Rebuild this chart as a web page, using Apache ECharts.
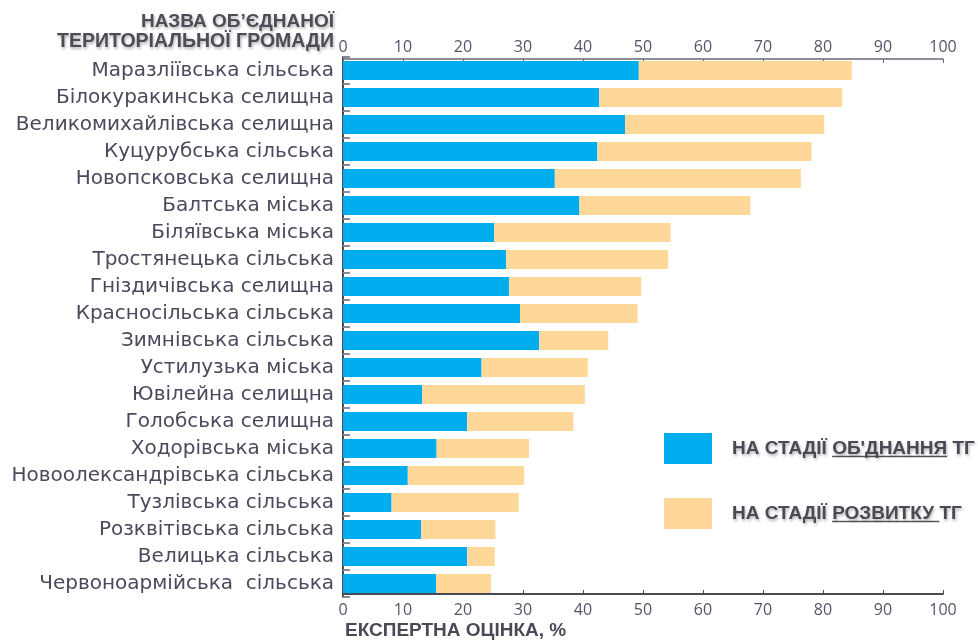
<!DOCTYPE html>
<html>
<head>
<meta charset="utf-8">
<script src="https://cdn.jsdelivr.net/npm/echarts@6/dist/echarts.min.js"></script>
<style>
  html, body { margin: 0; padding: 0; background: #fff; }
  #chart { width: 978px; height: 640px; }
</style>
</head>
<body>
<div id="chart"></div>
<script>
var communities = [
    'Маразліївська сільська', 'Білокуракинська селищна', 'Великомихайлівська селищна',
    'Куцурубська сільська', 'Новопсковська селищна', 'Балтська міська', 'Біляївська міська',
    'Тростянецька сільська', 'Гніздичівська селищна', 'Красносільська сільська',
    'Зимнівська сільська', 'Устилузька міська', 'Ювілейна селищна', 'Голобська селищна',
    'Ходорівська міська', 'Новоолександрівська сільська', 'Тузлівська сільська',
    'Розквітівська сільська', 'Велицька сільська', 'Червоноармійська  сільська'
];
// оцінка на стадії об'єднання
var mergeStage = [49.3, 42.7, 47.0, 42.4, 35.3, 39.4, 25.2, 27.2, 27.7, 29.5,
    32.7, 23.1, 13.2, 20.7, 15.6, 10.8, 8.1, 13.0, 20.7, 15.5];
// сумарна оцінка (кінець жовтого стовпчика)
var totalScore = [84.8, 83.2, 80.2, 78.1, 76.3, 67.9, 54.6, 54.2, 49.7, 49.1,
    44.2, 40.8, 40.3, 38.4, 31.0, 30.2, 29.3, 25.4, 25.3, 24.7];
var axisTicks = [0, 10, 20, 30, 40, 50, 60, 70, 80, 90, 100];
var seriesNames = ["НА СТАДІЇ ОБ'ДНАННЯ ТГ", 'НА СТАДІЇ РОЗВИТКУ ТГ'];

var developStage = totalScore.map(function (t, i) {
    return +(t - mergeStage[i]).toFixed(1);
});

var boldFamily = '"Liberation Sans", Arial, sans-serif';
var legendSize = 19;
var legendFont = 'bold ' + legendSize + 'px ' + boldFamily;
var shadow = {
    textShadowColor: 'rgba(0,0,0,0.3)',
    textShadowBlur: 3,
    textShadowOffsetX: 1,
    textShadowOffsetY: 2
};

// underline under part of the legend text
function textWidth(str) {
    let ctx = document.createElement('canvas').getContext('2d');
    ctx.font = legendFont;
    return ctx.measureText(str).width;
}
var legendTextX = 732;
var u1x = legendTextX + textWidth('НА СТАДІЇ ');
var u1w = textWidth("ОБ'ДНАННЯ");
var u2x = legendTextX + textWidth('НА СТАДІЇ ');
var u2w = textWidth('РОЗВИТКУ ');

var myChart = echarts.init(document.getElementById('chart'));
var axisLabelStyle = {
    color: '#55556a',
    fontSize: 16,
    fontFamily: '"Open Sans", sans-serif'
};
var option = {
    animation: false,
    grid: {
        left: 343,
        top: 57,
        width: 600,
        height: 540
    },
    legend: {
        orient: 'vertical',
        left: 659,
        top: 428,
        itemWidth: 48,
        itemHeight: 31,
        itemGap: 34,
        icon: 'rect',
        selectedMode: false,
        data: seriesNames,
        textStyle: Object.assign({
            color: '#4a4a55',
            fontSize: legendSize,
            fontWeight: 'bold',
            fontFamily: boldFamily,
            padding: [0, 0, 0, 15]
        }, shadow)
    },
    xAxis: [
        {
            type: 'value',
            position: 'bottom',
            min: 0,
            max: 100,
            interval: 10,
            offset: -3,
            splitLine: {show: false},
            axisLine: {show: true, lineStyle: {color: '#4a4a55', width: 2}},
            axisTick: {show: true, inside: true, length: 4, lineStyle: {color: '#4a4a55'}},
            axisLabel: Object.assign({margin: 8}, axisLabelStyle)
        },
        {
            type: 'value',
            position: 'top',
            min: 0,
            max: 100,
            interval: 10,
            offset: -2,
            splitLine: {show: false},
            axisLine: {show: true, lineStyle: {color: '#6a6a7a', width: 1.5}},
            axisTick: {show: true, inside: true, length: 4, lineStyle: {color: '#6a6a7a'}},
            axisLabel: Object.assign({margin: 4}, axisLabelStyle)
        }
    ],
    yAxis: {
        type: 'category',
        inverse: true,
        data: communities,
        axisLine: {show: true, lineStyle: {color: '#4a4a55', width: 2}},
        axisTick: {show: true, inside: true, length: 7, lineStyle: {color: '#8a8a95', width: 2}},
        axisLabel: {
            interval: 0,
            color: '#4a4a5c',
            fontSize: 20,
            margin: 9,
            fontFamily: '"DejaVu Sans", sans-serif'
        }
    },
    series: [
        {
            name: seriesNames[0],
            type: 'bar',
            stack: 'score',
            barWidth: 19,
            data: mergeStage,
            itemStyle: {color: '#00aeef'}
        },
        {
            name: seriesNames[1],
            type: 'bar',
            stack: 'score',
            barWidth: 19,
            data: developStage,
            itemStyle: {color: '#ffd899'}
        }
    ],
    graphic: [
        {
            type: 'text',
            right: 978 - 334,
            top: 12,
            style: Object.assign({
                text: 'НАЗВА ОБ’ЄДНАНОЇ',
                font: 'bold 19px ' + boldFamily,
                fill: '#4d4d58'
            }, shadow)
        },
        {
            type: 'text',
            right: 978 - 334,
            top: 32,
            style: Object.assign({
                text: 'ТЕРИТОРІАЛЬНОЇ ГРОМАДИ',
                font: 'bold 19.5px ' + boldFamily,
                fill: '#4d4d58'
            }, shadow)
        },
        {
            type: 'text',
            left: 345,
            top: 621,
            style: {
                text: 'ЕКСПЕРТНА ОЦІНКА, %',
                font: 'bold 19px ' + boldFamily,
                fill: '#4a4a56'
            }
        },
        {
            type: 'line',
            shape: {x1: u1x, y1: 456.5, x2: u1x + u1w, y2: 456.5},
            style: {stroke: '#55555f', lineWidth: 1.5}
        },
        {
            type: 'line',
            shape: {x1: u2x, y1: 521.5, x2: u2x + u2w, y2: 521.5},
            style: {stroke: '#55555f', lineWidth: 1.5}
        }
    ]
};
myChart.setOption(option);
</script>
</body>
</html>
